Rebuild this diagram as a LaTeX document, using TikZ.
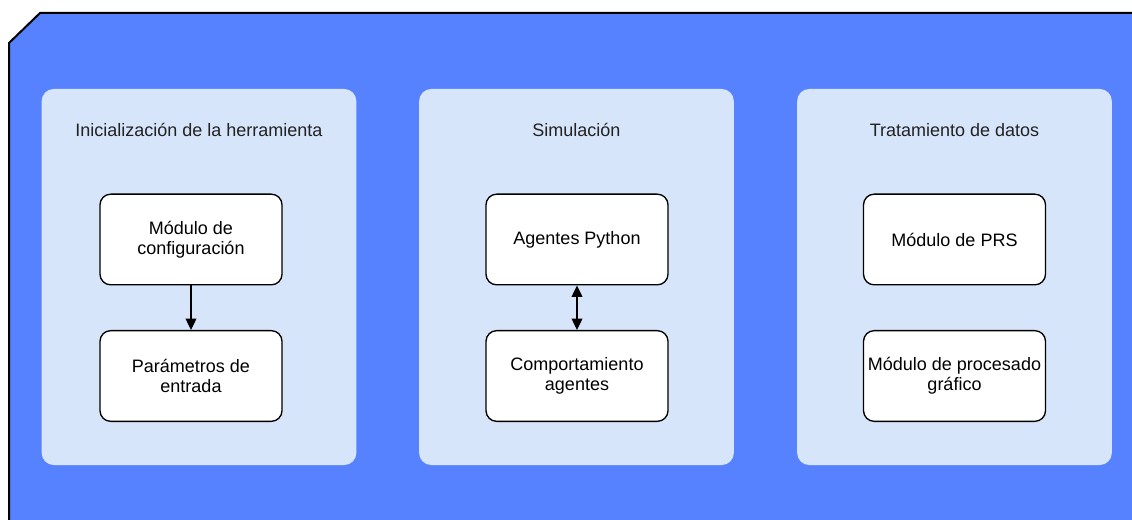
\documentclass[tikz,border=0pt]{standalone}
\usepackage{fontspec}
\setmainfont{Liberation Sans}
\usetikzlibrary{arrows.meta}
\definecolor{frameblue}{HTML}{5682FF}
\definecolor{panelblue}{HTML}{D6E5FA}
\definecolor{titlegray}{HTML}{222222}
\tikzset{
  panel/.style={fill=panelblue, draw=none, rounded corners=9pt,
    minimum width=236pt, minimum height=282pt, inner sep=0pt},
  panetitle/.style={text=titlegray, font=\fontsize{13.5}{15}\selectfont, inner sep=0pt},
  module/.style={fill=white, draw=black, line width=1pt, rounded corners=8pt,
    minimum width=136.5pt, minimum height=68pt, align=center,
    font=\fontsize{13.5}{15}\selectfont, inner sep=2pt},
  link/.style={draw=black, line width=1pt},
  tip/.tip={Triangle[length=8.5pt, width=8pt]}
}
\begin{document}
\begin{tikzpicture}[x=0.75pt, y=-0.75pt]
\useasboundingbox (0,0) rectangle (1132,520);
\begin{scope}
  \clip (0,0) rectangle (1132,520);
  % outer frame with the cut corner
  \draw[fill=frameblue, draw=black, line width=1.5pt]
    (9,600) -- (9,43) -- (40,13) -- (1200,13) -- (1200,600) -- cycle;
\end{scope}

% three panels
\node[panel] (pinit) at (199,277) {};
\node[panel] (psim)  at (576.5,277) {};
\node[panel] (pdata) at (954.5,277) {};

\node[panetitle] (tinit) at (199,130) {Inicialización de la herramienta};
\node[panetitle] (tsim)  at (576.5,130) {Simulación};
\node[panetitle] (tdata) at (954.5,130) {Tratamiento de datos};

% modules
\node[module] (config)  at (191,239.5) {Módulo de\\configuración};
\node[module] (params)  at (191,376)   {Parámetros de\\entrada};
\node[module] (agents)  at (577,239.5) {Agentes Python};
\node[module] (behav)   at (577,376)   {Comportamiento\\agentes};
\node[module] (prs)     at (954.5,239.5) {Módulo de PRS};
\node[module] (graphic) at (954.5,376)   {Módulo de procesado\\gráfico};

% connectors
\draw[link, -tip] (config) -- (params);
\draw[link, tip-tip] (agents) -- (behav);
\end{tikzpicture}
\end{document}
